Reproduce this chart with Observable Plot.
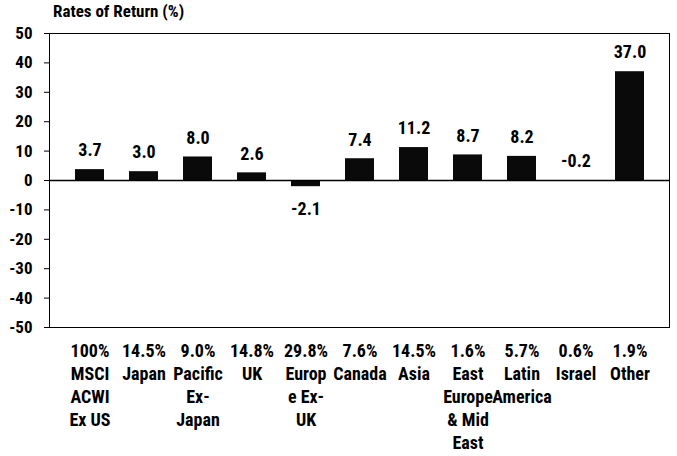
<!DOCTYPE html>
<html>
<head>
<meta charset="utf-8">
<script src="https://cdn.jsdelivr.net/npm/d3@7"></script>
<script src="https://cdn.jsdelivr.net/npm/@observablehq/plot@0.6"></script>
<style>
  html, body { margin: 0; padding: 0; background: #fff; }
  #title {
    height: 18px; line-height: 18px; padding-left: 53px; padding-top: 2px;
    font-family: "Liberation Sans Narrow", "Arial Narrow", "Roboto Condensed", "Liberation Sans", sans-serif;
    font-weight: bold; font-size: 17px; color: #000;
  }
</style>
</head>
<body>
<div id="title">Rates of Return (%)</div>
<div id="chart"></div>
<script>
const regions = ["MSCI\nACWI\nEx US", "Japan", "Pacific\nEx-\nJapan", "UK", "Europ\ne Ex-\nUK", "Canada", "Asia", "East\nEurope\n& Mid\nEast", "Latin\nAmerica", "Israel", "Other"];
const weights = ["100%", "14.5%", "9.0%", "14.8%", "29.8%", "7.6%", "14.5%", "1.6%", "5.7%", "0.6%", "1.9%"];
const returns = [3.7, 3.0, 8.0, 2.6, -2.1, 7.4, 11.2, 8.7, 8.2, -0.2, 37.0];
const yTicks = [-50, -40, -30, -20, -10, 0, 10, 20, 30, 40, 50];

const data = regions.map((r, i) => ({region: r, weight: weights[i], value: returns[i]}));
const font = `"Liberation Sans Narrow", "Arial Narrow", "Roboto Condensed", "Liberation Sans", sans-serif`;

const chart = Plot.plot({
  width: 677,
  height: 436,
  marginTop: 13,
  marginBottom: 129,
  marginLeft: 49,
  marginRight: 8,
  style: {fontFamily: font, fontWeight: "bold", color: "#000", background: "#fff"},
  x: {domain: regions, padding: 0.47, axis: null},
  y: {domain: [-50, 50], ticks: yTicks, tickFormat: d => String(d)},
  marks: [
    Plot.frame({stroke: "#000", strokeWidth: 1}),
    Plot.axisY({ticks: yTicks, tickFormat: d => String(d), tickSize: 5, tickPadding: 12, fontSize: 17, fontWeight: "bold", label: null, stroke: "#000"}),
    Plot.barY(data, {x: "region", y: "value", fill: "#0a0a0a"}),
    Plot.ruleY([0], {stroke: "#000", strokeWidth: 1.5}),
    Plot.text(data.filter(d => d.value >= -1), {
      x: "region", y: d => Math.max(d.value, 0), dy: -19,
      text: d => d.value.toFixed(1), fontSize: 18, fontWeight: "bold", fill: "#000"
    }),
    Plot.text(data.filter(d => d.value < -1), {
      x: "region", y: "value", dy: 23,
      text: d => d.value.toFixed(1), fontSize: 18, fontWeight: "bold", fill: "#000"
    }),
    Plot.text(data, {
      x: "region", frameAnchor: "bottom", lineAnchor: "top", dy: 13,
      text: d => d.weight + "\n" + d.region,
      fontSize: 18, fontWeight: "bold", fill: "#000", lineHeight: 1.28
    })
  ]
});
document.getElementById("chart").appendChild(chart);
</script>
</body>
</html>
